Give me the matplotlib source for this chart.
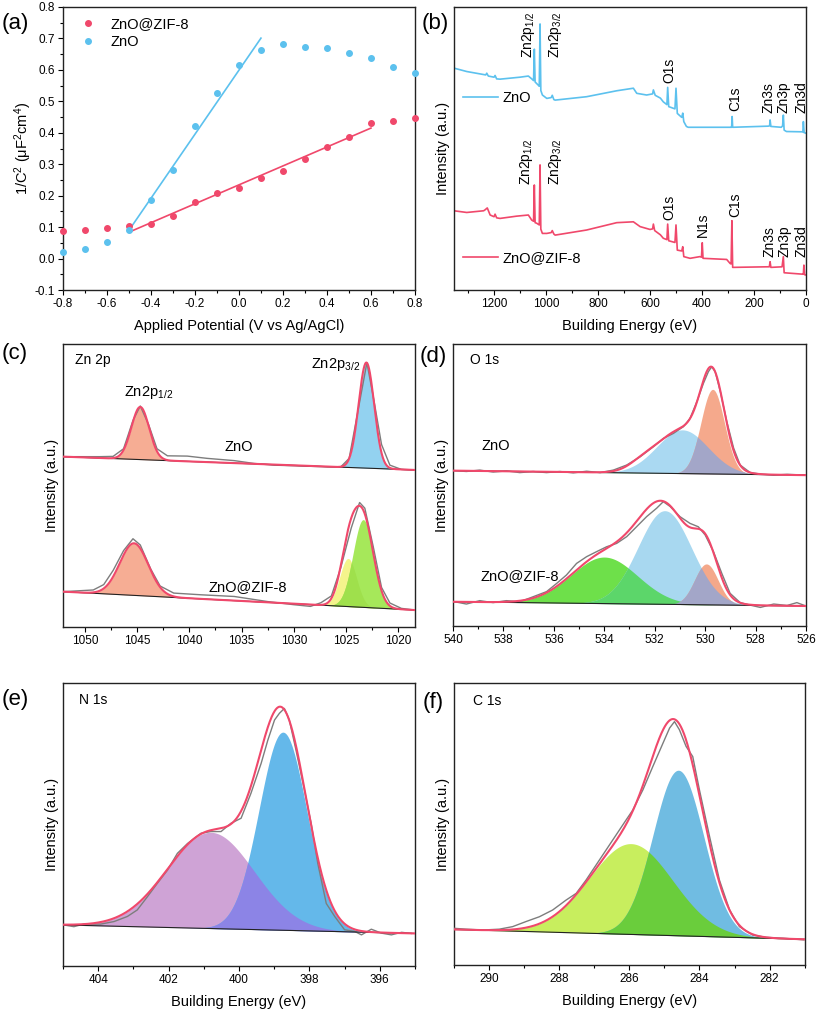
"""
Mott-Schottky + XPS (survey, Zn 2p, O 1s, N 1s, C 1s) de ZnO y ZnO@ZIF-8
"""
import numpy as np
import matplotlib.pyplot as plt
from matplotlib.ticker import MultipleLocator, FormatStrFormatter

plt.rcParams['font.family'] = ['Liberation Sans', 'DejaVu Sans']
plt.rcParams['mathtext.fontset'] = 'custom'
plt.rcParams['mathtext.rm'] = 'Liberation Sans'
plt.rcParams['mathtext.it'] = 'Liberation Sans:italic'
plt.rcParams['mathtext.default'] = 'regular'
plt.rcParams['axes.unicode_minus'] = False

RED = '#f0486b'
BLUE = '#5cc1ee'
GRAY = '#7d7d7d'

# ---- (a) Mott-Schottky ----
potential = [-0.8, -0.7, -0.6, -0.5, -0.4, -0.3, -0.2, -0.1, 0.0,
             0.1, 0.2, 0.3, 0.4, 0.5, 0.6, 0.7, 0.8]
ms_zif = [0.089, 0.092, 0.097, 0.104, 0.110, 0.135, 0.181, 0.208, 0.224,
          0.256, 0.280, 0.318, 0.356, 0.388, 0.431, 0.439, 0.446]
ms_zno = [0.021, 0.031, 0.054, 0.092, 0.185, 0.282, 0.420, 0.527, 0.616,
          0.664, 0.683, 0.672, 0.669, 0.655, 0.638, 0.609, 0.589]
fit_zno_x = [-0.5, 0.1]
fit_zno_y = [0.090, 0.701]
fit_zif_x = [-0.5, 0.6]
fit_zif_y = [0.084, 0.415]

# ---- (b) survey (energia eV, intensidad a.u.) ----
survey_zno = [(1354, 78.4), (1305, 77.2), (1232, 76.0), (1228, 76.6), (1222, 75.6), (1200, 75.2),
              (1196, 75.8), (1190, 74.6), (1177, 74.5), (1100, 75.2), (1068, 75.6), (1055, 74.6),
              (1048, 74.0), (1045, 85.1), (1042, 73.5), (1030, 72.4), (1026, 72.0), (1023, 94.0),
              (1020, 70.5), (1014, 68.9), (997, 67.7), (980, 68.0), (976, 68.8), (970, 67.3),
              (965, 67.1), (844, 68.3), (728, 70.4), (664, 71.3), (651, 69.5), (613, 68.9),
              (590, 69.3), (587, 70.7), (580, 68.8), (560, 67.8), (549, 66.5), (535, 65.5),
              (532, 71.6), (528, 64.8), (504, 64.0), (500, 71.3), (495, 62.4), (478, 61.0),
              (474, 62.5), (470, 59.5), (460, 57.8), (453, 57.5), (290, 57.5), (286, 57.5),
              (284, 61.3), (282, 57.5), (145, 57.9), (140, 58.0), (138, 60.1), (135, 57.8),
              (95, 57.5), (90, 58.0), (87, 61.8), (84, 56.5), (75, 56.0), (15, 55.9),
              (12, 55.8), (10, 59.5), (7, 55.6), (0, 55.4)]
survey_zif = [(1354, 28.0), (1305, 27.4), (1240, 28.0), (1235, 28.3), (1226, 29.0), (1215, 26.5),
              (1200, 25.9), (1196, 26.8), (1190, 25.5), (1177, 25.3), (1113, 26.1), (1068, 26.5),
              (1055, 24.7), (1048, 24.3), (1045, 37.1), (1042, 23.8), (1036, 23.6), (1026, 23.0),
              (1023, 44.2), (1020, 21.5), (1014, 20.0), (997, 20.0), (980, 20.3), (976, 21.0),
              (970, 19.8), (965, 19.4), (844, 21.2), (728, 23.8), (664, 24.1), (638, 22.4),
              (600, 21.4), (590, 21.6), (587, 23.3), (582, 21.0), (560, 19.5), (549, 18.3),
              (535, 17.8), (532, 23.3), (528, 17.4), (504, 16.8), (500, 23.0), (495, 14.1),
              (478, 13.8), (474, 15.3), (470, 11.8), (446, 11.2), (408, 11.8), (402, 11.6),
              (399, 16.7), (396, 11.2), (305, 10.8), (292, 9.4), (288, 9.2), (285, 24.5),
              (282, 8.0), (151, 8.2), (141, 8.2), (138, 10.0), (135, 8.0), (92, 8.2),
              (87, 11.8), (84, 6.1), (13, 5.6), (10, 5.6), (8, 8.8), (5, 5.4), (0, 5.3)]
survey_labels_zno = [('Zn2p$_{1/2}$', 1068, 81.9), ('Zn2p$_{3/2}$', 962, 81.9), ('O1s', 526, 73.3),
                     ('C1s', 273, 63.3), ('Zn3s', 145, 62.4), ('Zn3p', 85, 62.4), ('Zn3d', 19, 62.4)]
survey_labels_zif = [('Zn2p$_{1/2}$', 1074, 37.1), ('Zn2p$_{3/2}$', 965, 37.1), ('O1s', 526, 24.7),
                     ('N1s', 395, 18.6), ('C1s', 273, 25.9), ('Zn3s', 141, 11.8),
                     ('Zn3p', 81, 11.8), ('Zn3d', 19, 11.8)]

# ---- (c) Zn 2p ----
zn_xlim = (1052.1, 1018.4)
zn_zno_bg = [60.2, 55.5]
zn_zno_center = [1044.7, 1023.05]
zn_zno_height = [18.6, 37.3]
zn_zno_fwhm = [2.0, 1.75]
zn_zif_bg = [12.5, 6.0]
zn_zif_center = [1045.3, 1024.8, 1023.35]
zn_zif_height = [18.4, 17.0, 31.0]
zn_zif_fwhm = [3.2, 1.9, 2.3]
zn_zno_raw = [(1052.1, 60.2), (1048.6, 60.2), (1047.3, 60.3), (1046.3, 63.0), (1045.4, 73.0),
              (1044.7, 78.1), (1043.9, 71.5), (1043.1, 63.0), (1042.1, 60.5), (1040.2, 60.4),
              (1038.3, 59.6), (1035.7, 58.8), (1033.8, 57.8), (1031.9, 57.2), (1029.3, 56.9),
              (1026.8, 56.6), (1025.5, 56.6), (1024.7, 59.6), (1023.9, 75.5), (1023.0, 93.4),
              (1022.3, 79.5), (1021.6, 64.5), (1020.8, 57.2), (1019.7, 55.7), (1018.4, 55.5)]
zn_zif_raw = [(1052.1, 12.5), (1049.2, 13.1), (1048.2, 15.0), (1047.3, 20.0), (1046.3, 27.0),
              (1045.4, 31.2), (1044.7, 29.0), (1043.7, 20.5), (1042.8, 14.5), (1041.5, 12.0),
              (1038.9, 11.4), (1035.7, 10.8), (1032.5, 9.0), (1030.0, 7.9), (1028.4, 7.3),
              (1027.4, 8.6), (1026.4, 11.0), (1025.5, 21.0), (1024.5, 35.0), (1023.7, 44.0),
              (1023.2, 42.0), (1022.4, 28.5), (1021.6, 14.0), (1020.8, 8.5), (1019.7, 6.6),
              (1018.4, 6.0)]

# ---- (d) O 1s ----
o_xlim = (540, 526)
o_zno_bg = [55.1, 53.5]
o_zno_center = [532.5, 530.9, 529.7]
o_zno_height = [2.0, 15.5, 30.0]
o_zno_fwhm = [1.2, 2.4, 1.1]
o_zif_bg = [8.6, 7.1]
o_zif_center = [534.0, 531.6, 529.95]
o_zif_height = [16.5, 33.2, 14.5]
o_zif_fwhm = [3.1, 2.5, 1.1]
o_zno_raw = [(539.93, 55.1), (539.47, 54.8), (538.94, 55.3), (538.41, 54.6), (537.88, 55.0),
             (537.35, 54.4), (536.82, 54.8), (536.29, 54.4), (535.76, 54.8), (535.23, 54.3),
             (534.70, 54.9), (534.17, 54.4), (533.64, 55.3), (533.11, 57.1), (532.58, 60.0),
             (532.05, 63.6), (531.66, 66.5), (531.26, 68.3), (530.86, 70.7), (530.60, 73.6),
             (530.33, 79.5), (530.07, 86.0), (529.87, 90.2), (529.74, 91.9), (529.60, 90.2),
             (529.40, 83.2), (529.14, 72.5), (528.87, 63.1), (528.61, 57.1), (528.21, 54.4),
             (527.81, 53.9), (527.28, 53.5), (526.75, 53.8), (526.00, 53.5)]
o_zif_raw = [(539.93, 8.6), (539.47, 7.8), (538.94, 9.0), (538.41, 8.3), (537.88, 9.0),
             (537.35, 8.6), (536.82, 10.4), (536.29, 12.2), (535.89, 15.1), (535.50, 18.1),
             (535.10, 22.2), (534.70, 24.6), (534.30, 26.4), (533.91, 28.1), (533.51, 29.3),
             (533.11, 31.7), (532.72, 35.2), (532.32, 38.8), (531.92, 41.8), (531.66, 44.1),
             (531.39, 42.4), (531.00, 38.8), (530.60, 36.4), (530.27, 35.2), (530.00, 32.3),
             (529.67, 26.4), (529.34, 18.7), (529.01, 11.6), (528.61, 8.3), (528.21, 7.4),
             (527.81, 6.6), (527.28, 7.8), (526.75, 7.3), (526.36, 8.3), (526.00, 7.1)]

# ---- (e) N 1s ----
n_xlim = (405, 395)
n_bg = [14.5, 11.5]
n_center = [400.8, 398.75]
n_height = [34.0, 70.0]
n_fwhm = [2.9, 1.6]
n_raw = [(404.98, 14.5), (404.69, 13.9), (404.41, 14.8), (403.93, 14.8), (403.55, 15.7),
         (403.17, 17.5), (402.89, 19.8), (402.60, 24.5), (402.32, 29.2), (402.03, 33.9),
         (401.75, 39.8), (401.46, 43.3), (401.08, 46.9), (400.80, 47.5), (400.51, 47.5),
         (400.23, 50.4), (399.94, 52.2), (399.66, 61.0), (399.37, 71.6), (399.18, 79.8),
         (398.99, 86.9), (398.85, 89.3), (398.71, 91.0), (398.57, 86.9), (398.38, 76.3),
         (398.14, 62.2), (397.95, 50.4), (397.76, 36.2), (397.52, 22.1), (397.28, 17.5),
         (397.00, 12.8), (396.71, 12.2), (396.52, 11.0), (396.24, 13.0), (395.95, 11.6),
         (395.67, 11.0), (395.38, 11.9), (395.10, 11.5)]

# ---- (f) C 1s ----
c_xlim = (291, 281)
c_bg = [12.6, 9.1]
c_center = [285.95, 284.6]
c_height = [32.2, 58.7]
c_fwhm = [2.8, 1.7]
c_raw = [(290.98, 13.0), (290.65, 12.7), (290.17, 12.4), (289.70, 12.7), (289.32, 13.6),
         (288.94, 15.4), (288.56, 17.1), (288.18, 19.5), (287.80, 23.0), (287.51, 25.4),
         (287.23, 30.1), (286.85, 37.2), (286.47, 44.3), (286.09, 51.4), (285.90, 54.9),
         (285.61, 62.1), (285.33, 70.3), (285.04, 78.6), (284.85, 84.0), (284.71, 86.3),
         (284.57, 83.4), (284.38, 77.5), (284.19, 73.9), (284.00, 62.1), (283.71, 45.5),
         (283.43, 30.1), (283.14, 19.5), (282.86, 13.6), (282.48, 10.6), (282.10, 9.8),
         (281.62, 9.5), (281.02, 8.9)]


def gauss(e, center, height, fwhm):
    """Componente gaussiana del ajuste"""
    sigma = fwhm / 2.3548
    return height * np.exp(-0.5 * ((e - center) / sigma) ** 2)


def draw_fit(ax, xlim, bg, centers, heights, fwhms, colors, overlaps, raw):
    """Dibuja datos, fondo, componentes rellenas y envolvente"""
    e = np.linspace(xlim[0], xlim[1], 900)
    base = np.linspace(bg[0], bg[1], e.size)
    comps = [gauss(e, c, h, w) for c, h, w in zip(centers, heights, fwhms)]
    for comp, col in zip(comps, colors):
        ax.fill_between(e, base, base + comp, color=col, lw=0, zorder=1)
    for i, j, col in overlaps:
        ax.fill_between(e, base, base + np.minimum(comps[i], comps[j]),
                        color=col, lw=0, zorder=2)
    raw_e, raw_i = np.array(raw).T
    ax.plot(raw_e, raw_i, color=GRAY, lw=1.0, zorder=3)
    ax.plot(e, base, color='#222222', lw=0.8, zorder=4)
    ax.plot(e, base + np.sum(comps, axis=0), color=RED, lw=1.5, zorder=5)


def style_axes(ax, major, minor, fmt):
    for sp in ax.spines.values():
        sp.set_linewidth(1.0)
        sp.set_color('#222222')
    ax.xaxis.set_major_locator(MultipleLocator(major))
    ax.xaxis.set_minor_locator(MultipleLocator(minor))
    ax.xaxis.set_major_formatter(FormatStrFormatter(fmt))
    ax.tick_params(which='major', direction='out', length=3.5, width=0.8,
                   labelsize=8.5, pad=2.5)
    ax.tick_params(which='minor', direction='out', length=2, width=0.8)


def spectrum_axes(ax, xlim, major, minor, ylabel_pad=3):
    ax.set_xlim(*xlim)
    ax.set_ylim(0, 100)
    ax.set_yticks([])
    style_axes(ax, major, minor, '%d')
    ax.set_ylabel('Intensity (a.u.)', fontsize=10.5, labelpad=ylabel_pad)


fig = plt.figure(figsize=(8.17, 10.13), dpi=100)

# (a)
ax = fig.add_axes([0.0771, 0.7137, 0.4308, 0.2794])
ax.plot(potential, ms_zif, 'o', color=RED, ms=4, label='ZnO@ZIF-8', clip_on=False, zorder=3)
ax.plot(potential, ms_zno, 'o', color=BLUE, ms=4, label='ZnO', clip_on=False, zorder=3)
ax.plot(fit_zno_x, fit_zno_y, color=BLUE, lw=1.2)
ax.plot(fit_zif_x, fit_zif_y, color=RED, lw=1.2)
ax.set_xlim(-0.8, 0.8)
ax.set_ylim(-0.1, 0.8)
style_axes(ax, 0.2, 0.1, '%.1f')
ax.yaxis.set_major_locator(MultipleLocator(0.1))
ax.yaxis.set_minor_locator(MultipleLocator(0.05))
ax.yaxis.set_major_formatter(FormatStrFormatter('%.1f'))
ax.set_xlabel('Applied Potential (V vs Ag/AgCl)', fontsize=10.5, labelpad=6)
ax.set_ylabel('1/C$^{2}$ (μF$^{2}$cm$^{4}$)', fontsize=10.5, labelpad=0.5)
ax.legend(loc='upper left', bbox_to_anchor=(0.035, 0.985), frameon=False,
          fontsize=10.5, handlelength=1.0, handletextpad=1.0, labelspacing=0.25,
          borderaxespad=0)

# (b)
ax = fig.add_axes([0.5557, 0.7137, 0.4308, 0.2794])
e, i = np.array(survey_zno).T
l_zno, = ax.plot(e, i, color=BLUE, lw=1.2)
e, i = np.array(survey_zif).T
l_zif, = ax.plot(e, i, color=RED, lw=1.2)
for txt, en, y in survey_labels_zno + survey_labels_zif:
    ax.text(en, y, txt, rotation=90, ha='center', va='bottom', fontsize=10)
ax.set_xlim(1354, 0)
ax.set_ylim(0, 100)
ax.set_yticks([])
style_axes(ax, 200, 100, '%d')
ax.set_xlabel('Building Energy (eV)', fontsize=10.5, labelpad=6)
ax.set_ylabel('Intensity (a.u.)', fontsize=10.5, labelpad=3)
leg1 = ax.legend([l_zno], ['ZnO'], loc='center left', bbox_to_anchor=(0.01, 0.678),
                 frameon=False, fontsize=10.5, handlelength=2.4, handletextpad=0.3,
                 borderaxespad=0)
ax.add_artist(leg1)
ax.legend([l_zif], ['ZnO@ZIF-8'], loc='center left', bbox_to_anchor=(0.01, 0.114),
          frameon=False, fontsize=10.5, handlelength=2.4, handletextpad=0.3,
          borderaxespad=0)

# (c)
ax = fig.add_axes([0.0771, 0.3810, 0.4308, 0.2794])
draw_fit(ax, zn_xlim, zn_zno_bg, zn_zno_center, zn_zno_height, zn_zno_fwhm,
         ['#f6ad94', '#93d2f0'], [], zn_zno_raw)
draw_fit(ax, zn_xlim, zn_zif_bg, zn_zif_center, zn_zif_height, zn_zif_fwhm,
         ['#f6ad94', '#f4f48c', '#a6e85a'], [(1, 2, '#9fe04c')], zn_zif_raw)
spectrum_axes(ax, zn_xlim, 5, 2.5)
ax.text(0.034, 0.943, 'Zn 2p', transform=ax.transAxes, fontsize=10, va='center')
ax.text(1043.9, 82.7, 'Zn2p$_{1/2}$', ha='center', va='center', fontsize=10.5)
ax.text(1026.0, 92.6, 'Zn2p$_{3/2}$', ha='center', va='center', fontsize=10.5)
ax.text(1035.3, 63.7, 'ZnO', ha='center', va='center', fontsize=10.5)
ax.text(1034.4, 14.2, 'ZnO@ZIF-8', ha='center', va='center', fontsize=10.5)

# (d)
ax = fig.add_axes([0.5545, 0.3820, 0.4320, 0.2784])
draw_fit(ax, o_xlim, o_zno_bg, o_zno_center, o_zno_height, o_zno_fwhm,
         ['#7ee060', '#aad9f2', '#f5a98c'], [(1, 2, '#a3a6c8')], o_zno_raw)
draw_fit(ax, o_xlim, o_zif_bg, o_zif_center, o_zif_height, o_zif_fwhm,
         ['#6ee04a', '#a8d8f0', '#f4a88a'], [(0, 1, '#5cd66a'), (1, 2, '#a3a6c8')],
         o_zif_raw)
spectrum_axes(ax, o_xlim, 2, 1)
ax.text(0.048, 0.943, 'O 1s', transform=ax.transAxes, fontsize=10, va='center')
ax.text(538.3, 63.8, 'ZnO', ha='center', va='center', fontsize=10.5)
ax.text(537.35, 17.7, 'ZnO@ZIF-8', ha='center', va='center', fontsize=10.5)

# (e)
ax = fig.add_axes([0.0771, 0.0464, 0.4308, 0.2794])
draw_fit(ax, n_xlim, n_bg, n_center, n_height, n_fwhm,
         ['#cfa3d6', '#64b8ea'], [(0, 1, '#8c84e6')], n_raw)
spectrum_axes(ax, n_xlim, 2, 1)
ax.set_xlabel('Building Energy (eV)', fontsize=10.5, labelpad=6)
ax.text(0.045, 0.94, 'N 1s', transform=ax.transAxes, fontsize=10, va='center')

# (f)
ax = fig.add_axes([0.5553, 0.0474, 0.4297, 0.2784])
draw_fit(ax, c_xlim, c_bg, c_center, c_height, c_fwhm,
         ['#c8ee5e', '#70bce2'], [(0, 1, '#6acd3c')], c_raw)
spectrum_axes(ax, c_xlim, 2, 1)
ax.set_xlabel('Building Energy (eV)', fontsize=10.5, labelpad=6)
ax.text(0.055, 0.936, 'C 1s', transform=ax.transAxes, fontsize=10, va='center')

# Etiquetas de panel
for lbl, x, y in [('(a)', 0.0025, 0.977), ('(b)', 0.5165, 0.977), ('(c)', 0.0025, 0.6515),
                  ('(d)', 0.514, 0.6476), ('(e)', 0.0025, 0.309), ('(f)', 0.5177, 0.307)]:
    fig.text(x, y, lbl, fontsize=16, ha='left', va='center')

fig.savefig('out.png', dpi=100)
